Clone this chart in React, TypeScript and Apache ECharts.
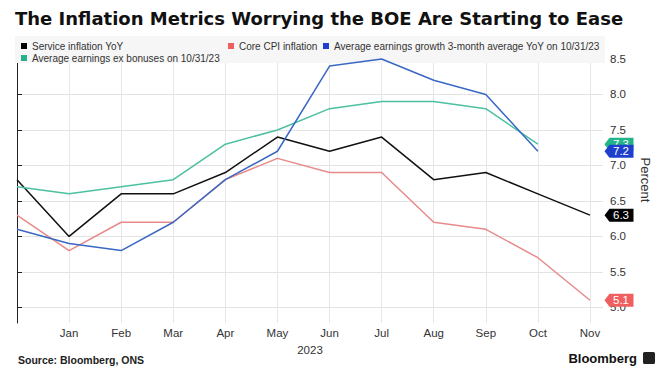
import React, { useEffect, useRef } from "react";
import * as echarts from "echarts";

const months = ["Dec", "Jan", "Feb", "Mar", "Apr", "May", "Jun", "Jul", "Aug", "Sep", "Oct", "Nov"];
const serviceInflation = [6.8, 6.0, 6.6, 6.6, 6.9, 7.4, 7.2, 7.4, 6.8, 6.9, 6.6, 6.3];
const coreCPI = [6.3, 5.8, 6.2, 6.2, 6.8, 7.1, 6.9, 6.9, 6.2, 6.1, 5.7, 5.1];
const earningsGrowth = [6.1, 5.9, 5.8, 6.2, 6.8, 7.2, 8.4, 8.5, 8.2, 8.0, 7.2];
const earningsExBonus = [6.7, 6.6, 6.7, 6.8, 7.3, 7.5, 7.8, 7.9, 7.9, 7.8, 7.3];
const yTicks = [5.0, 5.5, 6.0, 6.5, 7.0, 7.5, 8.0, 8.5];
const xLabelTicks = [1, 2, 3, 4, 5, 6, 7, 8, 9, 10, 11];
const xGridTicks = [0, 1, 2, 3, 4, 5, 6, 7, 8, 9, 10, 11];

const X_MAX = 11.25;
const FONT = "'Liberation Sans', Arial, sans-serif";
const TAG = "path://M0,6.5L5,0L29,0L29,13L5,13Z";

function makeSeries(name: string, values: number[], color: string, tagColor: string, z: number) {
  const last = values[values.length - 1];
  return {
    name,
    type: "line",
    z,
    showSymbol: false,
    symbol: "none",
    data: values.map((v, i) => [i, v]),
    lineStyle: { color, width: 1.5 },
    itemStyle: { color: tagColor },
    markPoint: {
      silent: true,
      z: 10 + z,
      symbol: TAG,
      symbolSize: [29, 13],
      symbolOffset: [16, 0],
      symbolKeepAspect: false,
      itemStyle: { color: tagColor },
      label: {
        show: true,
        position: "inside",
        color: "#fff",
        fontSize: 11.5,
        fontFamily: FONT,
        offset: [2, 0],
        formatter: () => last.toFixed(1),
      },
      data: [{ coord: [X_MAX, last], value: last }],
    },
  };
}

export default function App() {
  const ref = useRef<HTMLDivElement>(null);
  useEffect(() => {
    if (!ref.current) return;
    const chart = echarts.init(ref.current, null, { renderer: "svg" });
    const legendText = { fontSize: 10, color: "#333", fontFamily: FONT };
    const legendCommon = {
      icon: "rect",
      itemWidth: 6,
      itemHeight: 6,
      itemGap: 4,
      padding: 0,
      textStyle: legendText,
      selectedMode: false,
    };
    chart.setOption({
      animation: false,
      backgroundColor: "#fff",
      textStyle: { fontFamily: FONT },
      title: {
        text: "The Inflation Metrics Worrying the BOE Are Starting to Ease",
        left: 15,
        top: 9,
        padding: 0,
        textStyle: { fontSize: 18, fontWeight: "bold", color: "#111", fontFamily: "'DejaVu Sans', sans-serif" },
      },
      graphic: [
        {
          type: "rect",
          z: 1,
          shape: { x: 15, y: 36, width: 590, height: 27 },
          style: { fill: "#f6f6f6" },
        },
        {
          type: "text",
          left: 18,
          top: 354,
          style: { text: "Source: Bloomberg, ONS", font: `bold 10.5px ${FONT}`, fill: "#222" },
        },
        {
          type: "text",
          x: 637,
          y: 358,
          style: {
            text: "Bloomberg",
            font: `bold 13px ${FONT}`,
            fill: "#111",
            align: "right",
            verticalAlign: "middle",
          },
        },
        {
          type: "rect",
          left: 643,
          top: 352,
          shape: { width: 12, height: 12, r: 1.5 },
          style: { fill: "#222" },
        },
      ],
      legend: [
        { ...legendCommon, left: 21, top: 41, data: ["Service inflation YoY"], z: 60 },
        { ...legendCommon, left: 228, top: 41, data: ["Core CPI inflation"], z: 60 },
        {
          ...legendCommon,
          left: 323,
          top: 41,
          data: ["Average earnings growth 3-month average YoY on 10/31/23"],
          z: 60,
        },
        { ...legendCommon, left: 21, top: 53, data: ["Average earnings ex bonuses on 10/31/23"], z: 60 },
      ],
      grid: { left: 17, right: 53, top: 37, bottom: 53, containLabel: false },
      xAxis: {
        type: "value",
        min: 0,
        max: X_MAX,
        name: "2023",
        nameLocation: "middle",
        nameGap: 19,
        nameTextStyle: { fontSize: 11.5, color: "#333", fontFamily: FONT },
        axisLine: { show: false },
        axisTick: { show: false, customValues: xGridTicks },
        axisLabel: {
          customValues: xLabelTicks,
          formatter: (v: number) => months[Math.round(v)] || "",
          fontSize: 11.5,
          color: "#333",
          margin: 4,
          fontFamily: FONT,
        },
        splitLine: { show: true, lineStyle: { color: "#e6e6e6", width: 1 } },
      },
      yAxis: {
        type: "value",
        position: "right",
        min: 4.78,
        max: 8.81,
        name: "Percent",
        nameLocation: "middle",
        nameRotate: -90,
        nameGap: 36,
        nameTextStyle: { fontSize: 13, color: "#333", fontFamily: FONT },
        axisLine: { show: true, lineStyle: { color: "#222", width: 1 } },
        axisTick: { show: true, inside: false, length: 5, customValues: yTicks, lineStyle: { color: "#222" } },
        axisLabel: {
          customValues: yTicks,
          formatter: (v: number) => v.toFixed(1),
          fontSize: 11.5,
          color: "#333",
          margin: 7,
          fontFamily: FONT,
        },
        splitLine: { show: true, lineStyle: { color: "#e3e3e3", width: 1 } },
      },
      series: [
        makeSeries("Service inflation YoY", serviceInflation, "#111111", "#000000", 4),
        makeSeries("Core CPI inflation", coreCPI, "#e88a8a", "#ef5f5f", 3),
        makeSeries("Average earnings growth 3-month average YoY on 10/31/23", earningsGrowth, "#3a68c4", "#1d3fcc", 6),
        makeSeries("Average earnings ex bonuses on 10/31/23", earningsExBonus, "#4cc0a0", "#22b38a", 5),
      ],
    });
    return () => chart.dispose();
  }, []);
  return (
    <div
      ref={ref}
      style={{ position: "fixed", left: 0, top: 0, width: 660, height: 376, background: "#fff" }}
    />
  );
}
